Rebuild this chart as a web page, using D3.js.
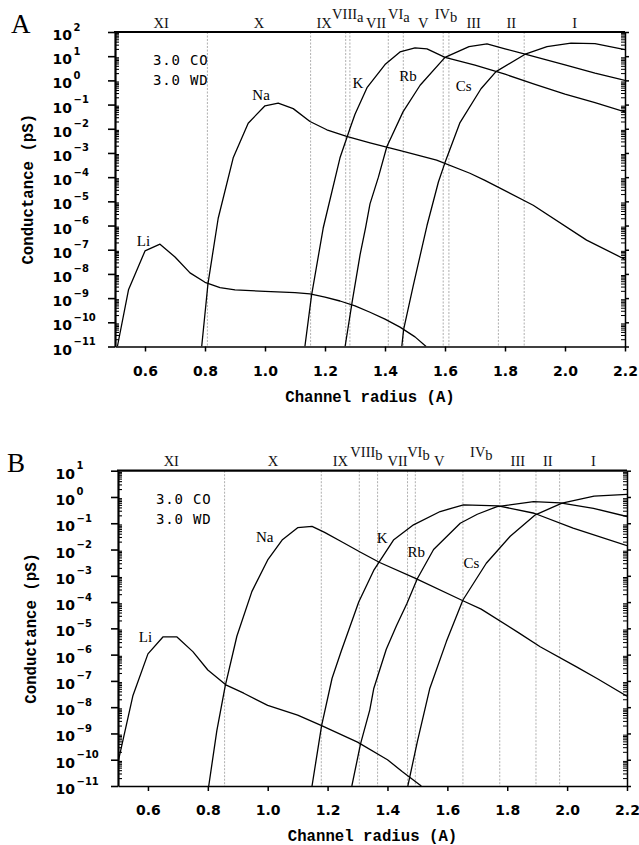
<!DOCTYPE html>
<html lang="en">
<head>
<meta charset="utf-8">
<title>Conductance vs channel radius</title>
<script src="https://cdn.jsdelivr.net/npm/d3@7"></script>
<style>
  body { margin: 0; background: #fff; }
  svg { display: block; }
</style>
</head>
<body>
<script>
// ---- data: [channel radius (A), conductance (pS)] ----
// panel A
const liA = [[0.508,1e-11],[0.545,2.2e-9],[0.6,8.9e-8],[0.65,1.7e-7],[0.7,5.0e-8],[0.75,1.1e-8],[0.8,4.5e-9],[0.85,2.7e-9],[0.9,2.2e-9],[1.0,1.9e-9],[1.1,1.7e-9],[1.15,1.5e-9],[1.2,1.1e-9],[1.25,7.6e-10],[1.3,4.8e-10],[1.35,2.6e-10],[1.4,1.35e-10],[1.45,6.3e-11],[1.5,2.5e-11],[1.537,1e-11]];
const naA = [[0.789,1e-11],[0.81,4.0e-9],[0.844,2.0e-6],[0.894,6.3e-4],[0.944,1.7e-2],[1.0,8.9e-2],[1.044,0.115],[1.094,6.8e-2],[1.15,2.0e-2],[1.206,9.1e-3],[1.272,4.8e-3],[1.35,2.6e-3],[1.461,1.15e-3],[1.572,5.1e-4],[1.683,1.45e-4],[1.733,7.4e-5],[1.894,6.9e-6],[2.072,2.5e-7],[2.2,4.0e-8]];
const kA = [[1.133,1e-11],[1.155,1.26e-9],[1.194,7.9e-7],[1.25,6.3e-4],[1.283,1e-2],[1.3,4.0e-2],[1.34,0.5],[1.4,4.5],[1.45,15],[1.5,22],[1.54,20],[1.6,8.9],[1.7,4.3],[1.8,1.8],[1.9,0.69],[2.0,0.27],[2.1,0.12],[2.2,0.05]];
const rbA = [[1.267,1e-11],[1.29,6.3e-10],[1.317,6.3e-8],[1.335,7.9e-7],[1.35,7.9e-6],[1.378,1e-4],[1.406,1.8e-3],[1.46,5.0e-2],[1.517,0.63],[1.6,8.9],[1.68,25],[1.74,32],[1.8,20],[1.87,12],[2.0,4.4],[2.1,2.0],[2.2,1.0]];
const csA = [[1.456,1e-11],[1.462,5.0e-11],[1.494,3.2e-9],[1.54,1e-6],[1.578,6.3e-5],[1.6,4.0e-4],[1.65,1.8e-2],[1.72,0.45],[1.77,2.3],[1.87,12.6],[1.94,25],[2.02,35],[2.1,33],[2.2,18.6]];

// panel B
const liB = [[0.5,7.9e-11],[0.55,2.8e-8],[0.6,1.07e-6],[0.65,4.7e-6],[0.697,4.7e-6],[0.75,1.3e-6],[0.8,2.6e-7],[0.86,7.1e-8],[0.92,3.4e-8],[1.0,1.17e-8],[1.1,5.0e-9],[1.18,2.0e-9],[1.3,4.7e-10],[1.4,1e-10],[1.45,3.5e-11],[1.513,1e-11]];
const naB = [[0.803,1e-11],[0.83,1.26e-9],[0.858,6.3e-8],[0.897,5.0e-6],[0.947,2.5e-4],[1.0,4.0e-3],[1.048,2.3e-2],[1.1,6.8e-2],[1.148,7.6e-2],[1.19,4.5e-2],[1.25,1.9e-2],[1.31,7.9e-3],[1.374,3.2e-3],[1.49,8.3e-4],[1.652,1.12e-4],[1.713,5.4e-5],[1.84,6.6e-6],[1.91,2.0e-6],[2.03,3.5e-7],[2.1,1.23e-7],[2.2,2.6e-8]];
const kB = [[1.148,1e-11],[1.18,2.0e-9],[1.215,1.26e-7],[1.246,1.4e-6],[1.304,1e-4],[1.354,1.6e-3],[1.42,2.3e-2],[1.487,8.7e-2],[1.576,0.28],[1.654,0.5],[1.77,0.46],[1.89,0.24],[2.02,6.5e-2],[2.2,1.4e-2]];
const rbB = [[1.281,1e-11],[1.31,4.0e-10],[1.341,7.9e-9],[1.354,5.0e-8],[1.396,1.6e-6],[1.43,1.26e-5],[1.465,8.9e-5],[1.5,7.9e-4],[1.554,1e-2],[1.643,0.1],[1.7,0.22],[1.766,0.43],[1.888,0.66],[1.977,0.6],[2.088,0.37],[2.2,0.18]];
const csB = [[1.468,1e-11],[1.5,5.0e-10],[1.541,5.0e-8],[1.597,3.2e-6],[1.652,1.2e-4],[1.73,3.0e-3],[1.81,3.2e-2],[1.894,0.21],[1.983,0.58],[2.09,1.07],[2.2,1.26]];

// selectivity sequence boundaries (radius) and names
const dividersA = [0.808, 1.152, 1.269, 1.283, 1.411, 1.461, 1.594, 1.613, 1.778, 1.864];
const dividersB = [0.856, 1.179, 1.306, 1.367, 1.467, 1.493, 1.652, 1.775, 1.896, 1.975];
const sequences = ["XI", "X", "IX", "VIII", "VII", "VI", "V", "IV", "III", "II", "I"];
const subsA = ["", "", "", "a", "", "a", "", "b", "", "", ""];
const subsB = ["", "", "", "b", "", "b", "", "b", "", "", ""];
const raised = [false, false, false, true, false, true, false, true, false, false, false];

const ionNames = ["Li", "Na", "K", "Rb", "Cs"];
const ionLabelsA = [[0.595, 1.4e-7], [0.987, 0.15], [1.31, 0.48], [1.477, 0.93], [1.662, 0.36]];
const ionLabelsB = [[0.592, 3.1e-6], [0.99, 1.95e-2], [1.382, 1.8e-2], [1.496, 5.4e-3], [1.68, 2.0e-3]];

const radiusDomain = [0.5, 2.2];
const radiusTicks = [0.6, 0.8, 1.0, 1.2, 1.4, 1.6, 1.8, 2.0, 2.2];
const conditions = ["3.0 CO", "3.0 WD"];

const W = 639, H = 845;
const serif = "'Liberation Serif', 'Times New Roman', serif";
const mono = "'Liberation Mono', 'Courier New', monospace";
const sans = "'DejaVu Sans', sans-serif";

const svg = d3.select("body").append("svg")
  .attr("width", W).attr("height", H)
  .attr("viewBox", `0 0 ${W} ${H}`);

svg.append("rect").attr("width", W).attr("height", H).attr("fill", "#fff");

drawPanel({
  id: "A", left: 115, right: 625, top: 32, bottom: 346.5, yMaxExp: 2,
  series: [liA, naA, kA, rbA, csA], dividers: dividersA, subs: subsA, ionLabels: ionLabelsA,
  seqShift: [0, 0, -4, 0, 7, 3, 0, 0, 0, 0, 0],
  letterX: 11
});
drawPanel({
  id: "B", left: 118, right: 627, top: 470.7, bottom: 786, yMaxExp: 1,
  series: [liB, naB, kB, rbB, csB], dividers: dividersB, subs: subsB, ionLabels: ionLabelsB,
  seqShift: [0, 0, 0, -2, 5, 7, 0, 0, 0, 0, 0],
  letterX: 7
});

function drawPanel(p) {
  const g = svg.append("g").attr("class", "panel-" + p.id);

  const x = d3.scaleLinear().domain(radiusDomain).range([p.left, p.right]);
  const y = d3.scaleLog().domain([1e-11, Math.pow(10, p.yMaxExp)]).range([p.bottom, p.top]);

  const decades = d3.range(-11, p.yMaxExp + 1);
  const minors = [];
  decades.slice(0, -1).forEach(e => {
    for (let k = 2; k <= 9; k++) minors.push(k * Math.pow(10, e));
  });
  const majors = decades.map(e => Math.pow(10, e));

  // clip
  const clipId = "clip-" + p.id;
  g.append("clipPath").attr("id", clipId)
    .append("rect")
    .attr("x", p.left).attr("y", p.top)
    .attr("width", p.right - p.left).attr("height", p.bottom - p.top);

  // sequence dividers
  g.append("g").attr("class", "dividers")
    .selectAll("line")
    .data(p.dividers)
    .join("line")
    .attr("x1", d => x(d)).attr("x2", d => x(d))
    .attr("y1", p.top).attr("y2", p.bottom)
    .attr("stroke", "#9a9a9a")
    .attr("stroke-width", 0.8)
    .attr("stroke-dasharray", "2,1.5");

  // sequence labels
  const bounds = [radiusDomain[0], ...p.dividers, radiusDomain[1]];
  const seq = g.append("g").attr("class", "sequences")
    .selectAll("text")
    .data(sequences)
    .join("text")
    .attr("x", (d, i) => (x(bounds[i]) + x(bounds[i + 1])) / 2 + p.seqShift[i])
    .attr("y", (d, i) => raised[i] ? p.top - 13.5 : p.top - 4.5)
    .attr("text-anchor", "middle")
    .attr("font-family", serif)
    .attr("font-size", 14.5)
    .attr("fill", "#111");
  seq.append("tspan").text(d => d);
  seq.append("tspan").attr("dy", 3).text((d, i) => p.subs[i]);

  // curves
  const line = d3.line()
    .x(d => x(d[0]))
    .y(d => y(d[1]));

  g.append("g").attr("clip-path", `url(#${clipId})`)
    .selectAll("path")
    .data(p.series)
    .join("path")
    .attr("d", line)
    .attr("fill", "none")
    .attr("stroke", "#000")
    .attr("stroke-width", 1.3)
    .attr("stroke-linejoin", "round");

  // ion labels
  g.append("g").attr("class", "ions")
    .selectAll("text")
    .data(p.ionLabels)
    .join("text")
    .attr("x", d => x(d[0]))
    .attr("y", d => y(d[1]))
    .attr("text-anchor", "middle")
    .attr("font-family", serif)
    .attr("font-size", 15)
    .attr("fill", "#000")
    .text((d, i) => ionNames[i]);

  // condition annotation
  g.append("g").selectAll("text")
    .data(conditions)
    .join("text")
    .attr("x", p.left + 38)
    .attr("y", (d, i) => p.top + 33 + i * 20)
    .attr("font-family", "'DejaVu Sans Mono', monospace")
    .attr("font-size", 14)
    .attr("letter-spacing", 0.8)
    .attr("fill", "#000")
    .text(d => d);

  // left axis: major ticks outward, minor inward
  g.append("g")
    .attr("transform", `translate(${p.left},0)`)
    .call(d3.axisLeft(y).tickValues(majors).tickSize(7).tickSizeOuter(0).tickFormat(""))
    .call(a => a.select(".domain").attr("stroke-width", 2.2))
    .call(a => a.selectAll(".tick line").attr("stroke-width", 1.6));
  g.append("g")
    .attr("transform", `translate(${p.left},0)`)
    .call(d3.axisLeft(y).tickValues(minors).tickSize(-4).tickSizeOuter(0).tickFormat(""))
    .call(a => a.select(".domain").remove())
    .call(a => a.selectAll(".tick line").attr("stroke-width", 1.1));

  // right axis
  g.append("g")
    .attr("transform", `translate(${p.right},0)`)
    .call(d3.axisRight(y).tickValues(majors).tickSize(4).tickSizeOuter(0).tickFormat(""))
    .call(a => a.select(".domain").attr("stroke-width", 1.5))
    .call(a => a.selectAll(".tick line").attr("stroke-width", 1.5));
  g.append("g")
    .attr("transform", `translate(${p.right},0)`)
    .call(d3.axisRight(y).tickValues(minors).tickSize(-4).tickSizeOuter(0).tickFormat(""))
    .call(a => a.select(".domain").remove())
    .call(a => a.selectAll(".tick line").attr("stroke-width", 1));

  // top frame line
  g.append("line")
    .attr("x1", p.left - 1).attr("x2", p.right)
    .attr("y1", p.top).attr("y2", p.top)
    .attr("stroke", "#000").attr("stroke-width", 2.2);

  // y tick labels: 10 with superscript exponent
  const yl = g.append("g").attr("class", "ylabels");
  yl.selectAll("text.base")
    .data(decades)
    .join("text")
    .attr("class", "base")
    .attr("x", p.left - 43)
    .attr("y", d => y(Math.pow(10, d)) + 8)
    .attr("text-anchor", "end")
    .attr("font-family", sans)
    .attr("font-weight", "bold")
    .attr("font-size", 14)
    .text("10");
  yl.selectAll("text.exp")
    .data(decades)
    .join("text")
    .attr("class", "exp")
    .attr("x", p.left - 41.5)
    .attr("y", d => y(Math.pow(10, d)) - 1.5)
    .attr("font-family", sans)
    .attr("font-weight", "bold")
    .attr("font-size", 10)
    .text(d => d < 0 ? "\u2212" + (-d) : String(d));

  // bottom axis
  g.append("g")
    .attr("transform", `translate(0,${p.bottom})`)
    .call(d3.axisBottom(x).tickValues(radiusTicks).tickSize(5).tickSizeOuter(0)
      .tickPadding(14.5).tickFormat(d3.format(".1f")))
    .call(a => a.select(".domain").attr("stroke-width", 1.6))
    .call(a => a.selectAll(".tick line").attr("stroke-width", 1.5))
    .call(a => a.selectAll("text")
      .attr("font-family", sans)
      .attr("font-weight", "bold")
      .attr("font-size", 14)
      .attr("fill", "#000"));

  // axis titles
  g.append("text")
    .attr("x", (p.left + p.right) / 2)
    .attr("y", p.bottom + 55)
    .attr("text-anchor", "middle")
    .attr("font-family", mono)
    .attr("font-weight", "bold")
    .attr("font-size", 15.7)
    .text("Channel radius (A)");

  g.append("text")
    .attr("transform", `translate(${p.left - 82},${(p.top + p.bottom) / 2}) rotate(-90)`)
    .attr("text-anchor", "middle")
    .attr("font-family", mono)
    .attr("font-weight", "bold")
    .attr("font-size", 15.7)
    .text("Conductance (pS)");

  // panel letter
  g.append("text")
    .attr("x", p.letterX)
    .attr("y", p.top + 1)
    .attr("font-family", serif)
    .attr("font-size", 27)
    .text(p.id);
}
</script>
</body>
</html>
